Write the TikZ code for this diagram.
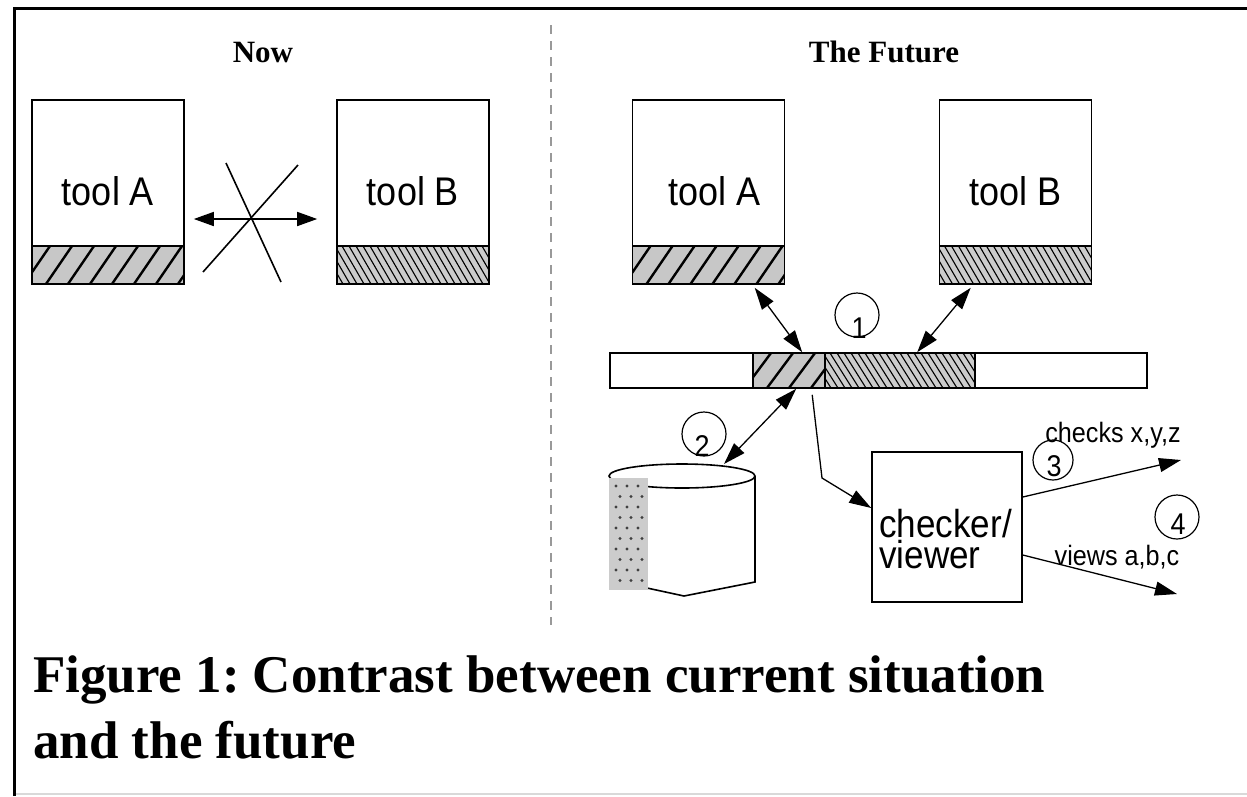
\documentclass[tikz,border=0pt]{standalone}
\usepackage{fontspec}
\setmainfont{Liberation Serif}
\newfontfamily\arialf[FakeStretch=0.9]{Liberation Sans}
\usetikzlibrary{arrows.meta,calc}
\definecolor{hatchgray}{gray}{0.78}
\definecolor{hatchgrayb}{gray}{0.80}
\definecolor{dotgray}{gray}{0.80}
\definecolor{dashgray}{gray}{0.6}
\newcommand\slashfill[4]{%
  \begin{scope}
    \clip (#1,#2) rectangle (#3,#4);
    \fill[hatchgray] (#1,#2) rectangle (#3,#4);
    \foreach \k in {0,...,12} \draw[line width=2.4pt] ({#1+\k*22-30},#4) -- ({#1+\k*22-4},#2);
  \end{scope}
  \draw[line width=1.6pt] (#1,#2) rectangle (#3,#4);}
\newcommand\backfill[4]{%
  \begin{scope}
    \clip (#1,#2) rectangle (#3,#4);
    \fill[hatchgrayb] (#1,#2) rectangle (#3,#4);
    \foreach \k in {0,...,28} \draw[line width=1.1pt] ({#1+\k*7-30},#2) -- ({#1+\k*7-8},#4);
  \end{scope}
  \draw[line width=1.6pt] (#1,#2) rectangle (#3,#4);}
\begin{document}
\frenchspacing
\begin{tikzpicture}[x=1pt,y=-1pt,
  toolbox/.style={draw, line width=1.6pt, minimum width=152pt, minimum height=184pt, inner sep=0pt, font=\arialf\fontsize{40}{44}\selectfont},
  dbl/.style={line width=1.3pt, {Triangle[length=22pt,width=14pt]}-{Triangle[length=22pt,width=14pt]}},
  dblnow/.style={line width=1.6pt, {Triangle[length=20pt,width=14pt]}-{Triangle[length=20pt,width=14pt]}},
  sgl/.style={line width=1.3pt, -{Triangle[length=22pt,width=14pt]}},
  numcirc/.style={draw, circle, line width=1.2pt, minimum size=44pt, inner sep=0pt},
  numtxt/.style={anchor=base, inner sep=0pt, font=\arialf\fontsize{30}{32}\selectfont},
  lbl/.style={anchor=base, inner sep=0pt, font=\arialf\fontsize{28}{30}\selectfont},
  ttl/.style={anchor=base, inner sep=0pt, font=\bfseries\fontsize{31}{36}\selectfont},
  capt/.style={anchor=base west, inner sep=0pt, font=\bfseries\fontsize{53}{60}\selectfont},
  cvtxt/.style={anchor=north west, inner sep=0pt, align=left, font=\arialf\fontsize{39}{31}\selectfont},
]
\useasboundingbox (0,0) rectangle (1247,796);
\fill[white] (0,0) rectangle (1247,796);
% frame
\draw[gray!30, line width=2pt] (14,794) -- (1247,794);
\draw[line width=3pt] (14,796) -- (14,8) -- (1247,8);
\draw[dashgray, line width=1.5pt, dash pattern=on 9pt off 7pt] (551,25) -- (551,625);
% titles
\node[ttl] (tnow) at (263,62) {Now};
\node[ttl] (tfut) at (884,62) {The Future};
% hatched bottoms
\slashfill{32}{246}{184}{284}
\backfill{337}{246}{489}{284}
\slashfill{632.5}{246}{784.5}{284}
\backfill{939.5}{246}{1091.5}{284}
% tools
\node[toolbox] (nA) at (108,192) {\raisebox{2pt}{tool A}};
\node[toolbox] (nB) at (413,192) {\raisebox{2pt}{tool B}};
\node[toolbox] (fA) at (708.5,192) {\hspace*{12pt}\raisebox{2pt}{tool A}};
\node[toolbox] (fB) at (1015.5,192) {\raisebox{2pt}{tool B}};
% Now: crossed-out exchange
\draw[dblnow] ([xshift=9pt,yshift=-27pt]nA.east) -- ([xshift=-19pt,yshift=-27pt]nB.west);
\draw[line width=1.6pt] (203,272) -- (298,165);
\draw[line width=1.6pt] (226,163) -- (281,282);
% bar
\node[draw, line width=1.6pt, minimum width=537pt, minimum height=35pt, inner sep=0pt] (bar) at (878.5,370.5) {};
\slashfill{753}{353}{825}{388}
\backfill{825}{353}{975}{388}
% cylinder
\draw[line width=1.6pt] (682,476) ellipse (73pt and 12pt);
\draw[line width=1.6pt] (755,476) -- (755,582) -- (684,596) -- (647,588);
\fill[dotgray] (609,478) rectangle (648,590);
\foreach \r in {0,...,9} \foreach \c in {0,1,2}
  \fill[black!75] ({616+\c*11+mod(\r,2)*4},{486+\r*10.5}) circle (1.7pt);
\coordinate (cyl) at (724,464);
% checker/viewer
\node[draw, line width=1.6pt, minimum width=150pt, minimum height=150pt, inner sep=0pt] (cv) at (947,527) {};
\node[cvtxt] (cvt) at (879,509) {checker/\\viewer};
% numbered circles
\node[numcirc] (c1) at (857,315) {};
\node[numtxt] (n1) at (859,338) {1};
\node[numcirc] (c2) at (704,434) {};
\node[numtxt] (n2) at (702,456) {2};
\node[numcirc, minimum size=40pt] (c3) at (1053,460) {};
\node[numtxt] (n3) at (1054,476) {3};
\node[numcirc] (c4) at (1177,517) {};
\node[numtxt] (n4) at (1178,534) {4};
% labels
\node[lbl] (lc) at (1113,442) {checks x,y,z};
\node[lbl] (lv) at (1117,565) {views a,b,c};
% connectors
\coordinate (bend) at (822,478);
\coordinate (endC) at (1181,460);
\coordinate (endV) at (1177,594);
\draw[dbl] ([xshift=123pt,yshift=-3pt]fA.south west) -- ([xshift=193pt]bar.north west);
\draw[dbl] ([xshift=32pt,yshift=-3pt]fB.south west) -- ([xshift=308pt]bar.north west);
\draw[dbl] ([xshift=187pt]bar.south west) -- (cyl);
\draw[sgl] ([xshift=203pt,yshift=-6pt]bar.south west) -- (bend) -- ([yshift=19pt]cv.west);
\draw[sgl] ([yshift=30pt]cv.east) -- (endC);
\draw[sgl] ([yshift=-28pt]cv.east) -- (endV);
% caption
\node[capt] (cap1) at (33,692) {Figure 1: Contrast between current situation};
\node[capt] (cap2) at (33,758) {and the future};
\end{tikzpicture}
\end{document}
